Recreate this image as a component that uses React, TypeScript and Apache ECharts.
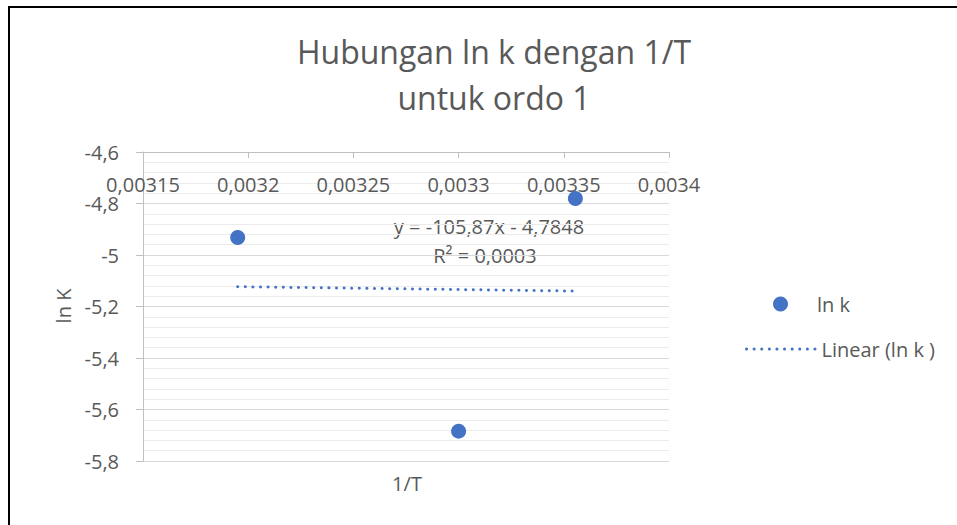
import React, { useEffect, useRef } from "react";
import * as echarts from "echarts";

// Data
const invT: number[] = [0.003195, 0.0033, 0.0033555];
const lnK: number[] = [-4.932, -5.684, -4.7805];

// Excel linear trendline shown on the chart
const trendSlope = -105.87;
const trendIntercept = -4.7848;
const trendLabel = "y = -105,87x - 4,7848";
const r2Label = "R² = 0,0003";

const titleLines: string[] = ["Hubungan ln k dengan 1/T", "untuk ordo 1"];
const seriesName = "ln k";
const trendName = "Linear (ln k )";
const xAxisTitle = "1/T";
const yAxisTitle = "ln K";

const xMin = 0.00315;
const xMax = 0.0034;
const xStep = 0.00005;
const yMin = -5.8;
const yMax = -4.6;
const yStep = 0.2;

const FONT = "'Open Sans', 'Noto Sans', sans-serif";
const TXT = "#595959";
const BLUE = "#4472C4";

const fmt = (v: number) => String(Number(v.toFixed(6))).replace(".", ",");

export default function App() {
  const ref = useRef<HTMLDivElement>(null);
  useEffect(() => {
    if (!ref.current) return;
    const chart = echarts.init(ref.current, null, { renderer: "svg" });
    const pts = invT.map((x, i) => [x, lnK[i]]);
    const tx0 = Math.min(...invT);
    const tx1 = Math.max(...invT);
    const trend = [
      [tx0, trendSlope * tx0 + trendIntercept],
      [tx1, trendSlope * tx1 + trendIntercept],
    ];
    chart.setOption({
      animation: false,
      backgroundColor: "#ffffff",
      textStyle: { fontFamily: FONT },
      title: {
        text: titleLines.join("\n"),
        left: 489,
        textAlign: "center",
        top: 23,
        textStyle: {
          fontFamily: FONT,
          fontSize: 32,
          fontWeight: "normal",
          color: TXT,
          lineHeight: 46,
        },
      },
      legend: [
        {
          data: [seriesName],
          orient: "vertical",
          left: 773,
          top: 294,
          padding: 0,
          itemWidth: 15,
          itemHeight: 15,
          textStyle: { fontFamily: FONT, fontSize: 20, color: TXT, padding: [0, 0, 0, 24] },
        },
        {
          data: [trendName],
          orient: "vertical",
          left: 745,
          top: 339,
          padding: 0,
          itemWidth: 70,
          itemHeight: 15,
          itemStyle: { opacity: 0 },
          lineStyle: { color: BLUE, width: 3, type: [0.1, 7.5], cap: "round" },
          textStyle: { fontFamily: FONT, fontSize: 20, color: TXT },
        },
      ],
      grid: { left: 143, right: 288, top: 152, bottom: 64, containLabel: false },
      xAxis: {
        type: "value",
        position: "top",
        min: xMin,
        max: xMax,
        interval: xStep,
        axisLine: { show: true, onZero: false, lineStyle: { color: "#bfbfbf", width: 1 } },
        axisTick: { show: true, inside: true, length: 6, lineStyle: { color: "#bfbfbf" } },
        axisLabel: {
          inside: true,
          margin: 22,
          color: TXT,
          fontSize: 20,
          fontFamily: FONT,
          formatter: (v: number) => fmt(v),
          showMinLabel: true,
          showMaxLabel: true,
        },
        splitLine: { show: false },
      },
      yAxis: {
        type: "value",
        min: yMin,
        max: yMax,
        interval: yStep,
        axisLine: { show: true, lineStyle: { color: "#bfbfbf", width: 1 } },
        axisTick: { show: true, length: 7, lineStyle: { color: "#bfbfbf" } },
        minorTick: { show: false, splitNumber: 5 },
        axisLabel: {
          margin: 24,
          color: TXT,
          fontSize: 20,
          fontFamily: FONT,
          formatter: (v: number) => fmt(v),
        },
        splitLine: { show: true, lineStyle: { color: "#d9d9d9", width: 1 } },
        minorSplitLine: { show: true, lineStyle: { color: "#ebebeb", width: 1 } },
      },
      series: [
        {
          name: seriesName,
          type: "scatter",
          data: pts,
          symbol: "circle",
          symbolSize: 15,
          itemStyle: { color: BLUE, opacity: 1 },
          z: 3,
        },
        {
          name: trendName,
          type: "line",
          data: trend,
          symbol: "none",
          showSymbol: false,
          lineStyle: { color: BLUE, width: 3, type: [0.1, 7.5], cap: "round" },
          itemStyle: { color: BLUE },
          z: 2,
        },
      ],
      graphic: [
        {
          type: "rect",
          shape: { x: 9, y: 7, width: 1000, height: 600 },
          style: { fill: "none", stroke: "#000000", lineWidth: 2 },
          silent: true,
          z: -1,
        },
        {
          type: "text",
          x: 489,
          y: 226,
          style: { text: trendLabel, fill: TXT, font: `20px ${FONT}`, align: "center", verticalAlign: "middle" },
        },
        {
          type: "text",
          x: 485,
          y: 255,
          style: { text: r2Label, fill: TXT, font: `20px ${FONT}`, align: "center", verticalAlign: "middle" },
        },
        {
          type: "text",
          x: 407,
          y: 483,
          style: { text: xAxisTitle, fill: TXT, font: `20px ${FONT}`, align: "center", verticalAlign: "middle" },
        },
        {
          type: "text",
          x: 63,
          y: 306,
          rotation: Math.PI / 2,
          style: { text: yAxisTitle, fill: TXT, font: `20px ${FONT}`, align: "center", verticalAlign: "middle" },
        },
      ],
    });
    return () => chart.dispose();
  }, []);
  return (
    <div
      ref={ref}
      style={{ position: "fixed", left: 0, top: 0, width: 957, height: 525, background: "#fff" }}
    />
  );
}
